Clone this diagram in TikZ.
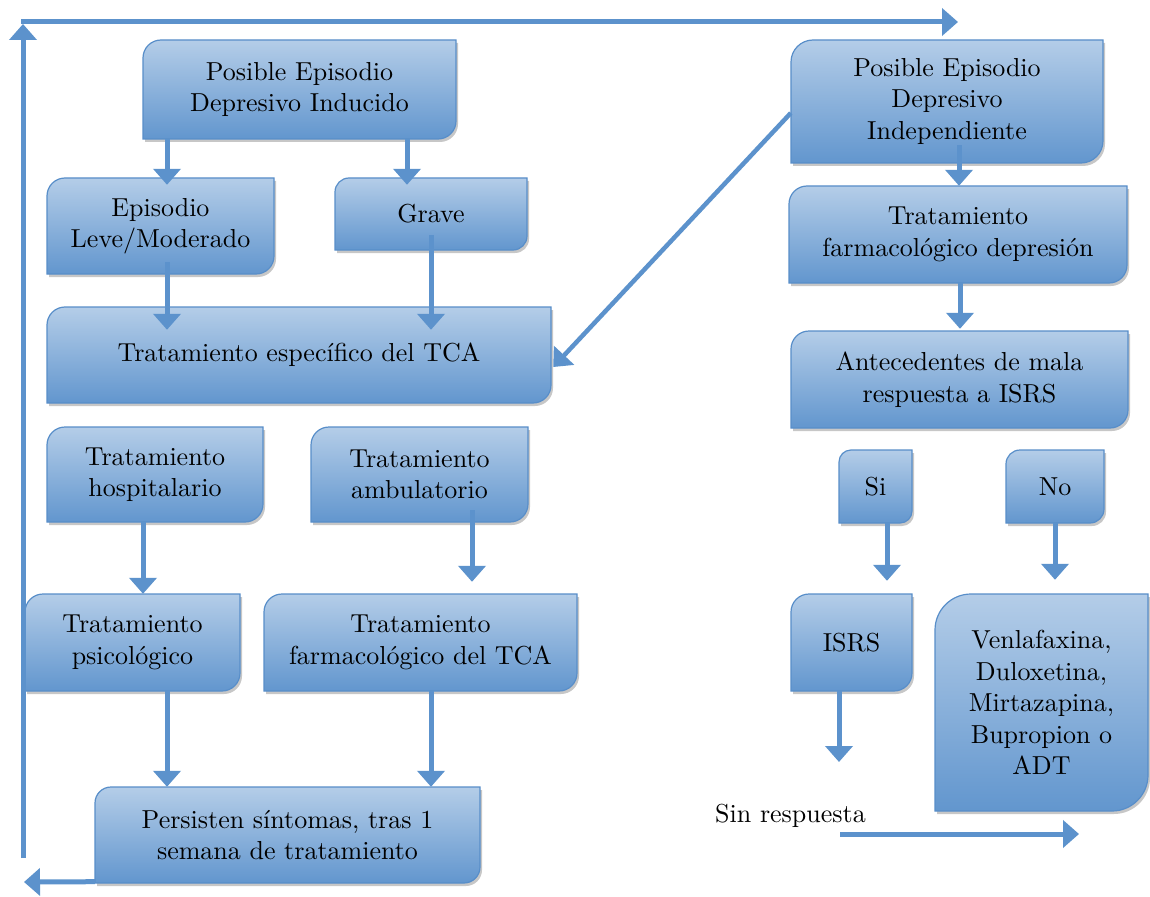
\documentclass[tikz,border=0pt]{standalone}
\usepackage{fontspec}
\setmainfont{lmroman10-regular.otf}
\usetikzlibrary{arrows.meta,shadows,calc}
\definecolor{boxtop}{RGB}{180,205,232}
\definecolor{boxbot}{RGB}{98,150,206}
\definecolor{boxline}{RGB}{88,142,201}
\definecolor{arrcol}{RGB}{92,146,204}
\tikzset{
  boxshape/.style={draw=boxline, line width=1.2pt, top color=boxtop, bottom color=boxbot,
    drop shadow={shadow xshift=2pt, shadow yshift=-3pt, opacity=0.22, fill=black}},
  boxtext/.style={draw=none, inner sep=0pt, align=center, font=\fontsize{26pt}{31.5pt}\selectfont},
  arrow/.style={draw=arrcol, line width=5pt, -{Triangle[width=27pt,length=16pt]}},
  label/.style={inner sep=0pt, font=\fontsize{26pt}{31.5pt}\selectfont}
}
% name, x1, y1, x2, y2, radius, text
\newcommand{\flowbox}[7]{%
  \path[boxshape] (#2,#5) -- (#2,{#3+#6}) .. controls (#2,{#3+0.448*#6}) and ({#2+0.448*#6},#3) .. ({#2+#6},#3)
    -- (#4,#3) -- (#4,{#5-#6}) .. controls (#4,{#5-0.448*#6}) and ({#4-0.448*#6},#5) .. ({#4-#6},#5) -- cycle;
  \node[boxtext, minimum width={(#4-#2)*1pt}, minimum height={(#5-#3)*1pt}] (#1) at ({(#2+#4)/2},{(#3+#5)/2}) {#7};
}
\begin{document}
\begin{tikzpicture}[x=1pt,y=-1pt]
\useasboundingbox (0,0) rectangle (1150,896);
\fill[white] (0,0) rectangle (1150,896);

\flowbox{ind}{143}{40}{456}{139}{18}{Posible Episodio\\Depresivo Inducido}
\flowbox{lev}{47}{178}{274}{274}{18}{Episodio\\Leve/Moderado}
\flowbox{grv}{335}{178}{527}{250}{14}{Grave}
\flowbox{tca}{47}{307}{551}{403}{18}{Tratamiento específico del TCA}
\flowbox{hos}{47}{427}{263}{522}{18}{Tratamiento\\hospitalario}
\flowbox{amb}{311}{427}{528}{522}{18}{Tratamiento\\ambulatorio}
\flowbox{psi}{25}{594}{240}{691}{18}{Tratamiento\\psicológico}
\flowbox{ftc}{264}{594}{577}{691}{18}{Tratamiento\\farmacológico del TCA}
\flowbox{per}{95}{787}{480}{883}{16}{Persisten síntomas, tras 1\\semana de tratamiento}
\flowbox{idp}{791}{40}{1103}{163}{22}{Posible Episodio\\Depresivo\\Independiente}
\flowbox{fdp}{789}{186}{1127}{283}{18}{Tratamiento\\farmacológico depresión}
\flowbox{ant}{791}{331}{1128}{428}{18}{Antecedentes de mala\\respuesta a ISRS}
\flowbox{si}{839}{450}{912}{523}{12}{Si}
\flowbox{no}{1006}{450}{1104}{523}{14}{No}
\flowbox{isrs}{791}{594}{912}{691}{18}{ISRS}
\flowbox{ven}{935}{594}{1148}{811}{36}{Venlafaxina,\\Duloxetina,\\Mirtazapina,\\Bupropion o\\ADT}

\node[label, anchor=base west] (sinr) at (715,822) {Sin respuesta};

\coordinate (isrsend) at (839,762);
\coordinate (sr1) at (840,834);
\coordinate (sr2) at (1079,834);
\coordinate (lpend) at (24,882);
\coordinate (vbot) at (23,858);
\coordinate (vtop) at (23,24);
\coordinate (hstart) at (21,22);
\coordinate (hend) at (958,22);

% arrows
\draw[arrow] ([xshift=-132.5pt]ind.south) -- ([xshift=6.5pt,yshift=-7pt]lev.north);
\draw[arrow] ([xshift=107.5pt]ind.south) -- ([xshift=-24pt,yshift=-7pt]grv.north);
\draw[arrow] ([xshift=6.5pt,yshift=12pt]lev.south) -- ([xshift=-132pt,yshift=-23pt]tca.north);
\draw[arrow] ([yshift=15pt]grv.south) -- ([xshift=132pt,yshift=-23pt]tca.north);
\draw[arrow, line width=4.5pt] ([yshift=-11.5pt]idp.west) -- ([xshift=2pt,yshift=-12pt]tca.east);
\draw[arrow] ([xshift=12pt,yshift=18pt]idp.south) -- ([xshift=1pt]fdp.north);
\draw[arrow] ([xshift=2pt]fdp.south) -- ([xshift=0.5pt,yshift=2pt]ant.north);
\draw[arrow] ([xshift=-12pt]hos.south) -- ([xshift=10.5pt]psi.north);
\draw[arrow] ([xshift=52.5pt,yshift=12pt]amb.south) -- ([xshift=51.5pt,yshift=12pt]ftc.north);
\draw[arrow] ([xshift=34.5pt]psi.south) -- ([xshift=-120.5pt]per.north);
\draw[arrow] ([xshift=10.5pt]ftc.south) -- ([xshift=143.5pt]per.north);
\draw[arrow] ([xshift=11.5pt]si.south) -- ([xshift=35.5pt,yshift=13pt]isrs.north);
\draw[arrow] (no.south) -- ([xshift=13.5pt,yshift=14pt]ven.north);
\draw[arrow] ([xshift=-12.5pt]isrs.south) -- (isrsend);
\draw[arrow] (sr1) -- (sr2);
\draw[arrow] ([yshift=1.5pt]per.south west) -- (lpend);
\draw[arrow] (vbot) -- (vtop);
\draw[arrow] (hstart) -- (hend);
\end{tikzpicture}
\end{document}
